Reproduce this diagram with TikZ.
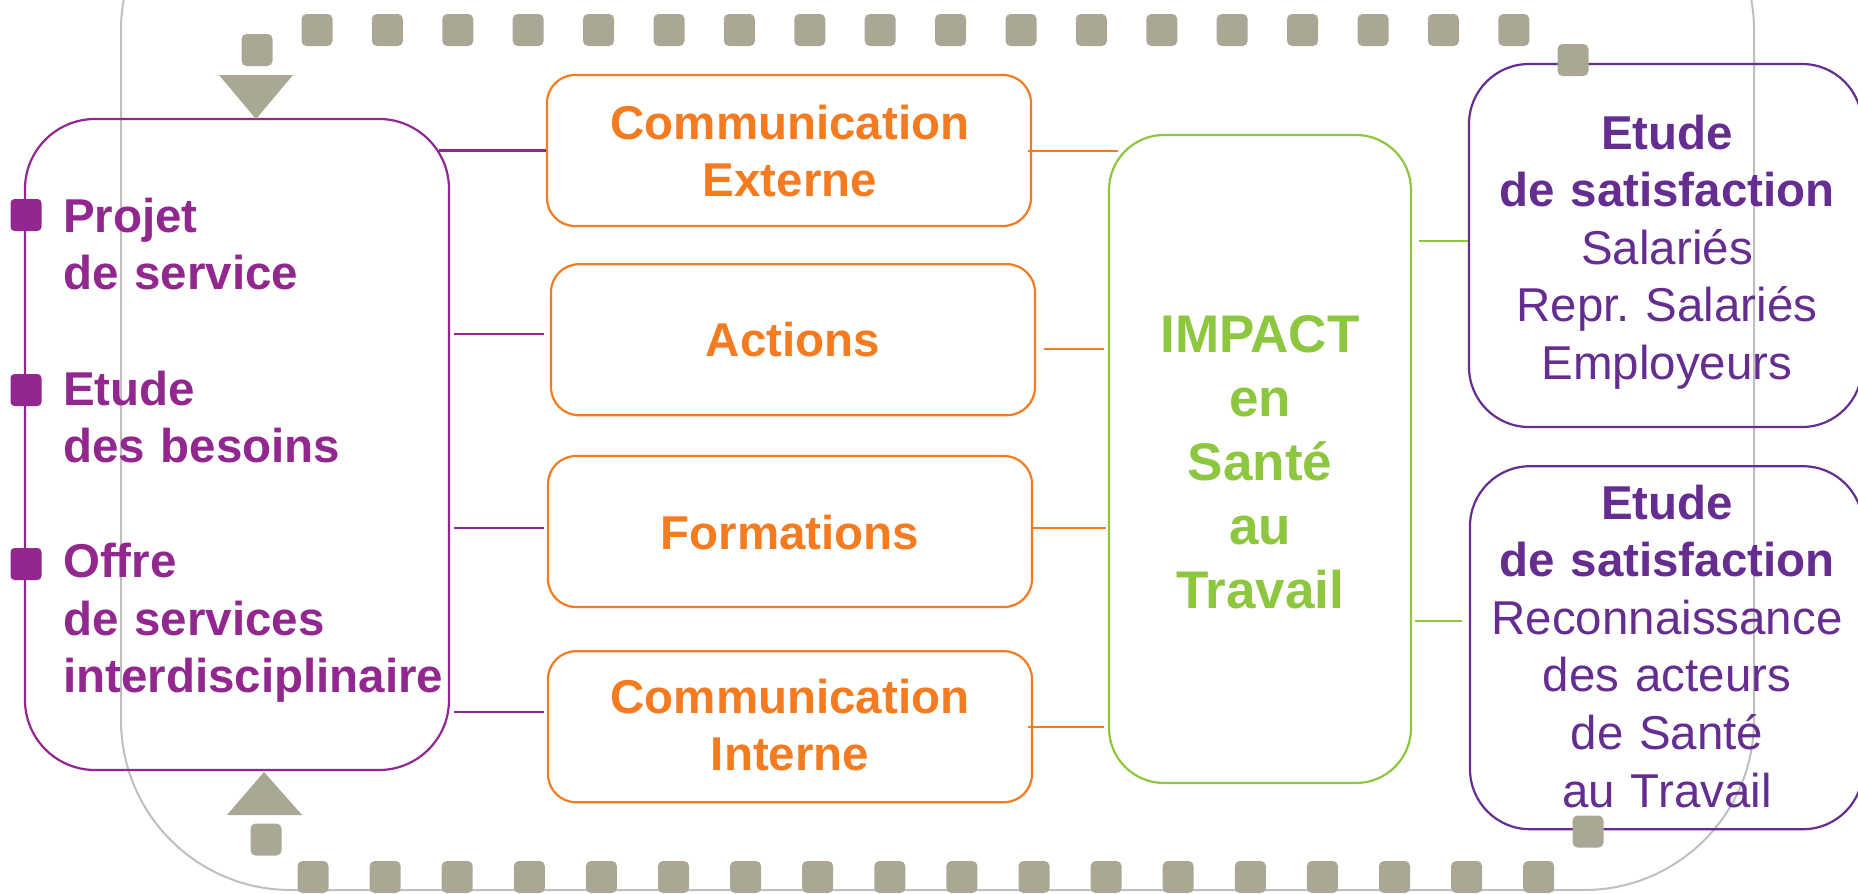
\documentclass[tikz,border=0pt]{standalone}
\usepackage{fontspec}
\setmainfont{Liberation Sans}
\usepackage{xcolor}
\usepackage{tikz}
\usetikzlibrary{positioning, calc}

\definecolor{servpurple}{HTML}{92278F}
\definecolor{actorange}{HTML}{F47B20}
\definecolor{impgreen}{HTML}{8DC63F}
\definecolor{satpurple}{HTML}{662D91}
\definecolor{loopgray}{HTML}{AAA795}
\definecolor{framegray}{HTML}{BFBFBF}

\newcommand{\bigtext}{\fontsize{47.5}{57.6}\selectfont}
\newcommand{\impacttext}{\fontsize{53}{64}\selectfont}

\begin{document}
\begin{tikzpicture}[x=1pt, y=-1pt,
    servicenode/.style={rectangle, draw=servpurple, line width=2.2pt, rounded corners=70pt, minimum width=424pt, minimum height=651pt},
    actionnode/.style={rectangle, draw=actorange, line width=2.2pt, rounded corners=28pt, minimum width=484pt, minimum height=151pt},
    impactnode/.style={rectangle, draw=impgreen, line width=2.2pt, rounded corners=55pt, minimum width=302pt, minimum height=648pt},
    etudenode/.style={rectangle, draw=satpurple, line width=2.2pt, rounded corners=60pt, minimum width=393pt, minimum height=363pt},
    loopnode/.style={rectangle, fill=loopgray, rounded corners=5pt, minimum width=31pt, minimum height=32pt, inner sep=0pt},
    bulletnode/.style={rectangle, fill=servpurple, rounded corners=4pt, minimum width=31pt, minimum height=32pt, inner sep=0pt},
    servtext/.style={anchor=base west, inner sep=0pt, text width=400pt, align=left, text=servpurple, font=\bigtext\bfseries},
    acttext/.style={anchor=base, inner sep=0pt, text width=420pt, align=center, text=actorange, font=\bigtext\bfseries},
    imptext/.style={anchor=base, inner sep=0pt, text width=280pt, align=center, text=impgreen, font=\impacttext\bfseries},
    etudetext/.style={anchor=base, inner sep=0pt, text width=380pt, align=center, text=satpurple, font=\bigtext},
    servline/.style={draw=servpurple, line width=2.4pt},
    actline/.style={draw=actorange, line width=2pt},
    impline/.style={draw=impgreen, line width=2pt}
]
\useasboundingbox (0,0) rectangle (1858,894);
\clip (0,0) rectangle (1858,894);

% frame behind everything
\draw[framegray, line width=2pt, rounded corners=170pt] (121,-140) rectangle (1754,890);

% boxes
\node[servicenode] (service) at (237,444.5) {};
\node[actionnode] (ext) at (789,150.5) {};
\node[actionnode] (act) [below = 36pt of ext, xshift=4pt] {};
\node[actionnode] (form) at (790,531.5) {};
\node[actionnode] (intern) [below = 42pt of form] {};
\node[impactnode] (impact) at (1260,459) {};
\node[etudenode] (sat) at (1665.5,245.5) {};
\node[etudenode] (reco) [below = 37pt of sat, xshift=1pt] {};

% texts
\node[bulletnode] (b1) at (26,215) {};
\node[bulletnode] (b2) at (26,390) {};
\node[bulletnode] (b3) at (26,564) {};
\node[servtext] (projet) at (63,232) {Projet\\de service};
\node[servtext] (besoins) at (63,405) {Etude\\des besoins};
\node[servtext] (offre) at (63,577.6) {Offre\\de services\\interdisciplinaire};

\node[acttext] (exttxt) at (790,139) {Communication\\Externe};
\node[acttext] (acttxt) at (793,356) {Actions};
\node[acttext] (formtxt) at (790,549) {Formations};
\node[acttext] (interntxt) at (790,713) {Communication\\Interne};

\node[imptext] (imptxt) at (1260,352) {IMPACT\\en\\Santé\\au\\Travail};

\node[etudetext] (sattxt) at (1667,149) {\textbf{Etude}\\\textbf{de satisfaction}\\Salariés\\Repr.\ Salariés\\Employeurs};
\node[etudetext] (recotxt) at (1667,519) {\textbf{Etude}\\\textbf{de satisfaction}\\Reconnaissance\\des acteurs\\de Santé\hspace*{13pt}\\au Travail};

% connectors
\draw[servline] ([xshift=-11pt]ext.west -| service.east) -- (ext.west);
\draw[servline] ([xshift=4pt, yshift=5.5pt]act.west -| service.east) -- ([xshift=-6pt, yshift=5.5pt]act.west);
\draw[servline] ([xshift=4pt, yshift=3.5pt]form.west -| service.east) -- ([xshift=-3pt, yshift=3.5pt]form.west);
\draw[servline] ([xshift=4pt, yshift=14.5pt]intern.west -| service.east) -- ([xshift=-3pt, yshift=14.5pt]intern.west);

\draw[actline] ([xshift=-4pt]ext.east) -- ([xshift=10pt]ext.east -| impact.west);
\draw[actline] ([xshift=8pt, yshift=-9.5pt]act.east) -- ([xshift=-4pt, yshift=-9.5pt]act.east -| impact.west);
\draw[actline] ([xshift=-1pt, yshift=3.5pt]form.east) -- ([xshift=-2pt, yshift=3.5pt]form.east -| impact.west);
\draw[actline] ([xshift=-5pt]intern.east) -- ([xshift=-4pt]intern.east -| impact.west);

\draw[impline] ([xshift=7pt, yshift=4.5pt]sat.west -| impact.east) -- ([yshift=4.5pt]sat.west);
\draw[impline] ([xshift=3pt, yshift=26.5pt]reco.west -| impact.east) -- ([xshift=-7pt, yshift=26.5pt]reco.west);

% loop of squares
\foreach \i in {0,...,17} {
  \node[loopnode] (top\i) at ({317+70.4*\i},30) {};
  \node[loopnode] (bot\i) at ({313+72.1*\i},877) {};
}
\node[loopnode] (topstep) at (257,50) {};
\node[loopnode] (topend) at (1573,60) {};
\node[loopnode] (botstep) at (266,839.5) {};
\node[loopnode] (botend) at (1588,831.5) {};
\fill[loopgray] (219,75) -- (293,75) -- (256,119) -- cycle;
\fill[loopgray] (227,815) -- (302,815) -- (264,772) -- cycle;
\end{tikzpicture}
\end{document}
